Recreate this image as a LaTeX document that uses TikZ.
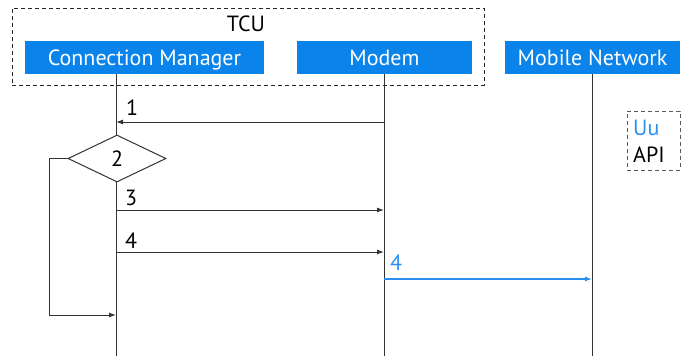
\documentclass[tikz,border=0pt]{standalone}
\usepackage{fontspec}
\setmainfont{PT Sans}
\usetikzlibrary{shapes.geometric,arrows.meta}
\definecolor{ebox}{HTML}{0A84EA}
\definecolor{eblue}{HTML}{2A90F0}
\definecolor{eline}{HTML}{333333}
\begin{document}
\begin{tikzpicture}[x=1pt,y=-1pt,
  actor/.style={fill=ebox,text=white,minimum height=33pt,inner sep=0pt,text depth=0pt,text height=15.5pt,font=\fontsize{22}{25}\selectfont},
  lbl/.style={inner sep=0pt,font=\fontsize{22}{25}\selectfont},
  life/.style={draw=eline,line width=1pt},
  msg/.style={draw=eline,line width=1pt,-{Latex[length=7pt,width=5pt]}},
  bmsg/.style={draw=eblue,line width=1.2pt,-{Latex[length=7pt,width=5pt]}}]
\useasboundingbox (0,0) rectangle (686,356);
% TCU group
\node[draw=black!85,dashed,dash pattern=on 4pt off 3pt,line width=0.8pt,minimum width=472pt,minimum height=77pt,inner sep=0pt] (tcu) at (248,46.5) {};
\node[lbl] (tculbl) at (246,24) {TCU};
% actors
\node[actor,minimum width=239pt] (cm) at (144.5,57.5) {Connection Manager};
\node[actor,minimum width=175pt] (mo) at (384.5,57.5) {Modem};
\node[actor,minimum width=175pt] (mn) at (592.5,57.5) {Mobile Network};
% lifeline coordinates
\coordinate (cmtop) at (116,74);
\coordinate (cmbot) at (116,356);
\coordinate (motop) at (384,74);
\coordinate (mobot) at (384,356);
\coordinate (mntop) at (592,74);
\coordinate (mnbot) at (592,356);
\draw[life] (cmtop) -- (cmbot);
\draw[life] (motop) -- (mobot);
\draw[life] (mntop) -- (mnbot);
% message 1
\coordinate (m1a) at (384,122);
\coordinate (m1b) at (116,122);
\draw[msg] (m1a) -- (m1b);
\node[lbl] (l1) at (132,108) {1};
% decision 2
\node[diamond,draw=eline,fill=white,line width=1pt,minimum width=98pt,minimum height=47pt,inner sep=0pt,aspect=2.085,font=\fontsize{22}{25}\selectfont] (d2) at (117,158.5) {2};
\coordinate (lp1) at (49,158.5);
\coordinate (lp2) at (49,315);
\coordinate (lp3) at (116,315);
\draw[msg] (d2.west) -- (lp1) -- (lp2) -- (lp3);
% message 3
\coordinate (m3a) at (116,210);
\coordinate (m3b) at (384,210);
\draw[msg] (m3a) -- (m3b);
\node[lbl] (l3) at (131,198) {3};
% message 4
\coordinate (m4a) at (116,252);
\coordinate (m4b) at (384,252);
\draw[msg] (m4a) -- (m4b);
\node[lbl] (l4) at (131,241) {4};
% message 4 blue
\coordinate (m5a) at (384,279);
\coordinate (m5b) at (592,279);
\draw[bmsg] (m5a) -- (m5b);
\node[lbl,text=eblue] (l5) at (396,263) {4};
% legend
\node[draw=black!65,dashed,dash pattern=on 4pt off 3pt,line width=0.8pt,minimum width=53pt,minimum height=59pt,inner sep=0pt] (leg) at (653.5,140.5) {};
\node[lbl,anchor=west,text=eblue] (uu) at (633,128) {Uu};
\node[lbl,anchor=west] (api) at (633,155) {API};
\end{tikzpicture}
\end{document}
